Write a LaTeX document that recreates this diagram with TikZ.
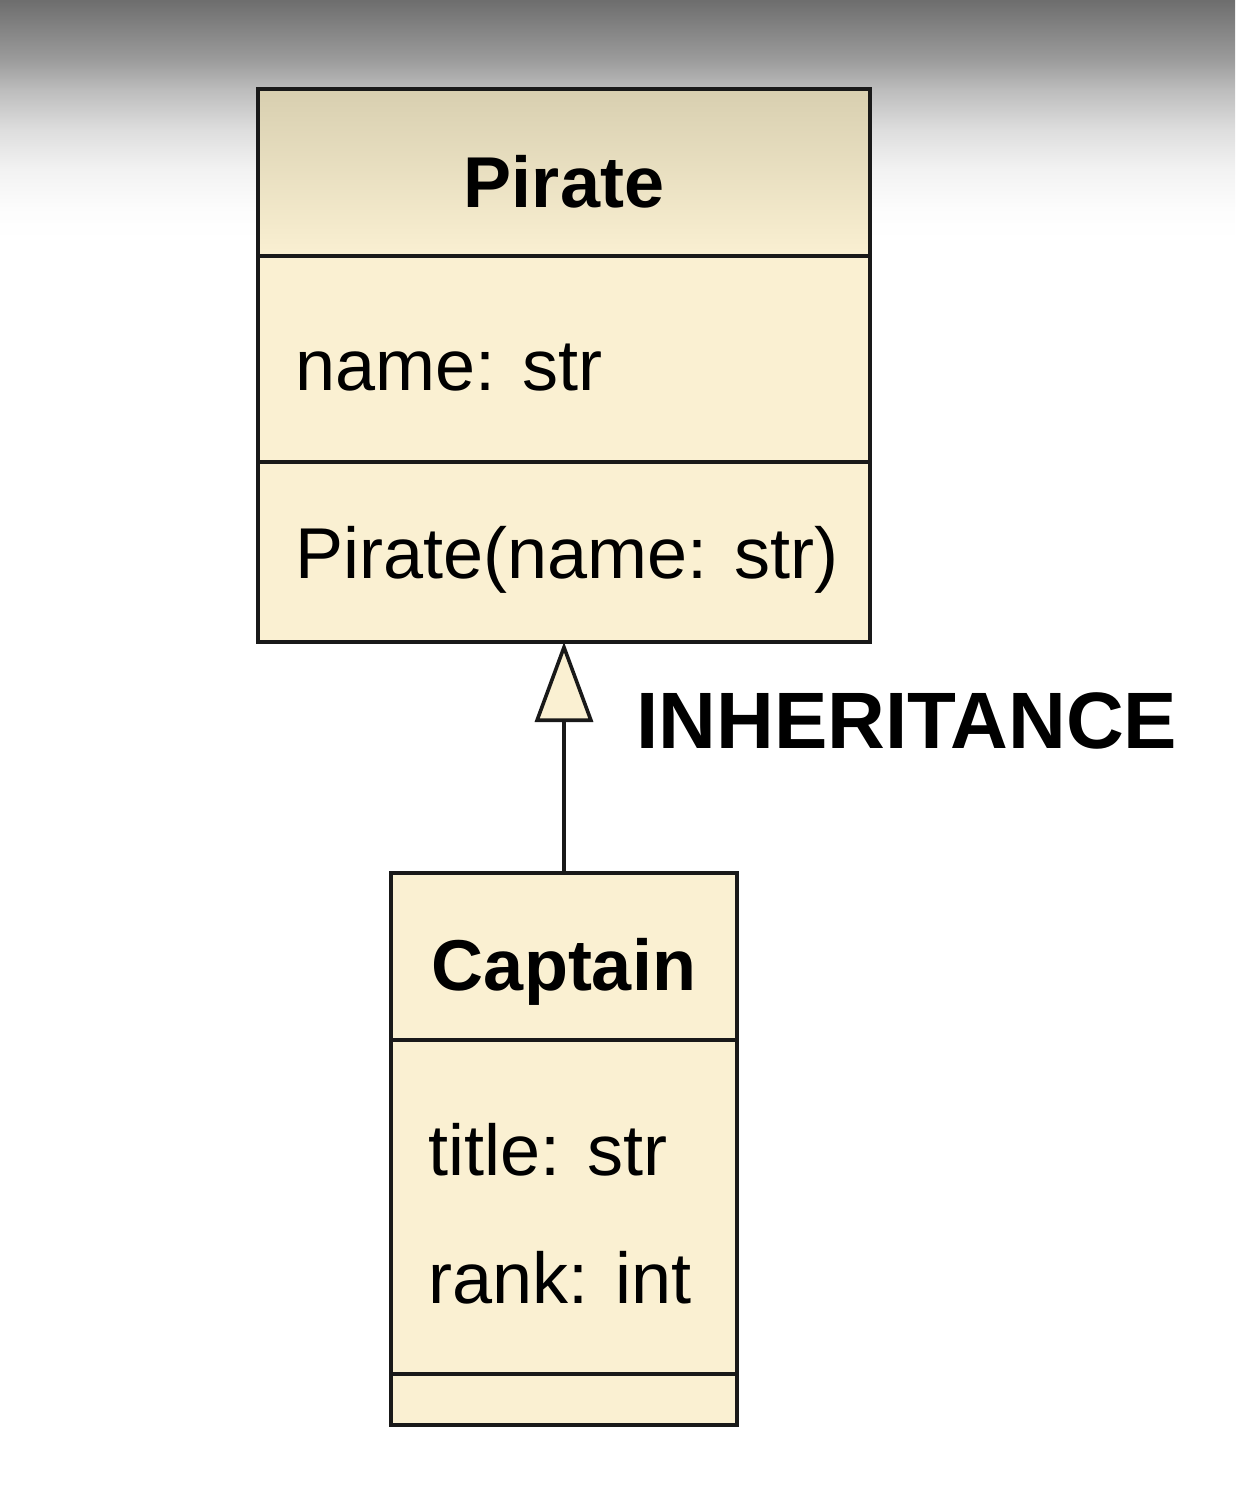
\documentclass[tikz,border=0pt]{standalone}
\usepackage{fontspec}
\setmainfont{Liberation Sans}
\usetikzlibrary{arrows.meta}
\definecolor{cream}{HTML}{FAF0D2}
\definecolor{creamdark}{HTML}{D8CFB0}
\colorlet{fadeA}{black!57}
\colorlet{fadeB}{black!48}
\colorlet{fadeC}{black!39}
\colorlet{fadeD}{black!26}
\colorlet{fadeE}{black!13}
\colorlet{fadeF}{black!5}
\colorlet{fadeG}{black!1}
\pgfdeclareverticalshading{topfade}{100bp}{color(0bp)=(white); color(25bp)=(white); color(31.25bp)=(fadeG); color(39.6bp)=(fadeF); color(47.9bp)=(fadeE); color(56.25bp)=(fadeD); color(62.5bp)=(fadeC); color(68.75bp)=(fadeB); color(75bp)=(fadeA); color(100bp)=(fadeA)}
\tikzset{
  compart/.style={draw=black!90, line width=1.8pt, fill=cream, rectangle, inner sep=0pt, outer sep=0pt, anchor=north west},
  titletext/.style={anchor=base, inner sep=0pt, font=\bfseries\fontsize{36}{40}\selectfont},
  attrtext/.style={anchor=base west, inner sep=0pt, font=\fontsize{36}{40}\selectfont},
  bigtext/.style={anchor=base west, inner sep=0pt, font=\bfseries\fontsize{40}{44}\selectfont},
}
\begin{document}
\begin{tikzpicture}[x=0.5pt,y=-0.5pt]
\useasboundingbox (0,0) rectangle (1235,1491);
\fill[white] (0,0) rectangle (1235,1491);
% top gray fade
\shade[shading=topfade] (0,0) rectangle (1235,240);

% Pirate class
\node[compart, minimum width=306pt, minimum height=83.5pt, top color=creamdark, middle color=cream, bottom color=cream] (ptitle) at (258,89) {};
\node[compart, minimum width=306pt, minimum height=103pt] (pattr) at (258,256) {};
\node[compart, minimum width=306pt, minimum height=90pt] (pops) at (258,462) {};
\node[titletext] (ptitlet) at (564,208) {Pirate};
\node[attrtext] (pname) at (295,391) {name: str};
\node[attrtext] (pctor) at (295,578) {Pirate(name: str)};

% Captain class
\node[compart, minimum width=173pt, minimum height=83.5pt] (ctitle) at (391,873) {};
\node[compart, minimum width=173pt, minimum height=167pt] (cattr) at (391,1040) {};
\node[compart, minimum width=173pt, minimum height=25.5pt] (cops) at (391,1374) {};
\node[titletext] (ctitlet) at (564,990) {Captain};
\node[attrtext] (ctitle1) at (428,1175) {title: str};
\node[attrtext] (crank) at (428,1303) {rank: int};

% inheritance
\draw[line width=1.8pt, black!90, -{Triangle[fill=cream, length=40pt, width=29pt]}] (ctitle.north) -- (pops.south);
\node[bigtext] (inh) at (636,748) {INHERITANCE};
\end{tikzpicture}
\end{document}
